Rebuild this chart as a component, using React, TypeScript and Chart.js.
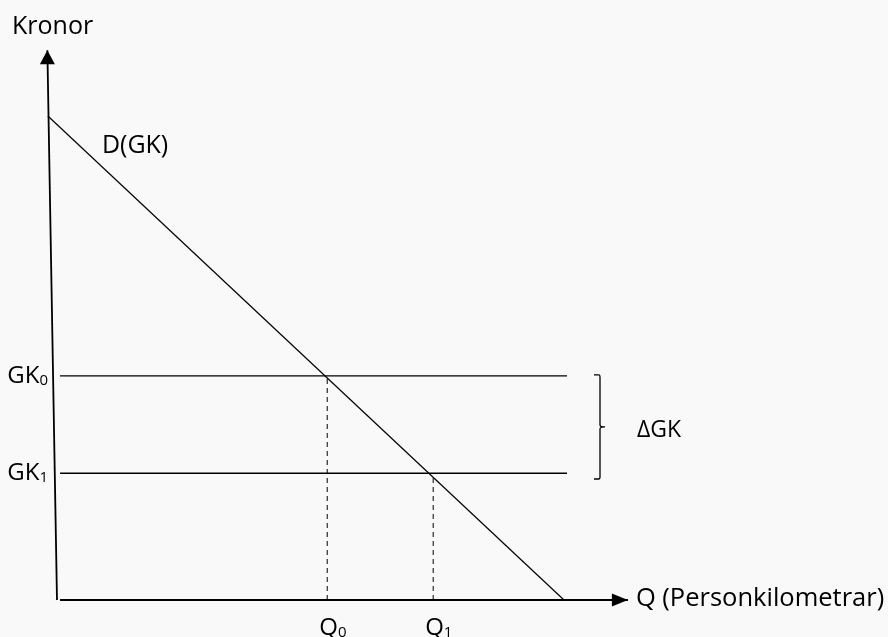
import React, { useEffect, useRef } from "react";
import { Chart, registerables } from "chart.js";

Chart.register(...registerables);

// ---- data (economic units: Q = personkilometrar, P = kronor) ----
const yAxisQ = [-1.9, 0];
const yAxisP = [113.6, 0];
const xAxisQ = [0.6, 112.6];
const xAxisP = [0, 0];
const demandQ = [-1.8, 100];
const demandP = [100, 0];
const gkLevels = [46.3, 26.2]; // GK0, GK1
const gkLabels = ["0", "1"];
const gkLineQ = [0.6, 100.6];
const qLevels = [53.3, 74.2]; // Q0, Q1
const qLabels = ["0", "1"];
const braceQ = 107.1;
const braceP = [46.5, 25.0];

const FONT = "'Open Sans', 'DejaVu Sans', sans-serif";
const BG = "#f9f9f9";

export default function App() {
  const ref = useRef<HTMLCanvasElement | null>(null);

  useEffect(() => {
    if (!ref.current) return;
    const pts = (xs: number[], ys: number[]) => xs.map((x, i) => ({ x, y: ys[i] }));

    const datasets: any[] = [
      { data: pts(yAxisQ, yAxisP), borderColor: "#000", borderWidth: 1.8 },
      { data: pts(xAxisQ, xAxisP), borderColor: "#000", borderWidth: 1.8 },
      { data: pts(demandQ, demandP), borderColor: "#000", borderWidth: 1.2 },
    ];
    gkLevels.forEach((p) =>
      datasets.push({ data: pts(gkLineQ, [p, p]), borderColor: "#000", borderWidth: 1.4 })
    );
    qLevels.forEach((q, i) =>
      datasets.push({
        data: pts([q, q], [0, gkLevels[i]]),
        borderColor: "#000",
        borderWidth: 1,
        borderDash: [5, 4],
      })
    );
    datasets.forEach((d) => {
      d.showLine = true;
      d.pointRadius = 0;
      d.fill = false;
      d.tension = 0;
    });

    const overlay = {
      id: "overlay",
      afterDraw(chart: any) {
        const ctx = chart.ctx as CanvasRenderingContext2D;
        const xs = chart.scales.x;
        const ys = chart.scales.y;
        const px = (v: number) => xs.getPixelForValue(v);
        const py = (v: number) => ys.getPixelForValue(v);
        ctx.save();
        ctx.fillStyle = "#000";
        ctx.strokeStyle = "#000";

        // y-axis arrow (tip at the end of the axis line)
        const tx = px(yAxisQ[0]);
        const ty = py(yAxisP[0]);
        ctx.beginPath();
        ctx.moveTo(tx, ty);
        ctx.lineTo(tx - 7.5, ty + 14);
        ctx.lineTo(tx + 7.5, ty + 14);
        ctx.closePath();
        ctx.fill();

        // x-axis arrow
        const ax = px(xAxisQ[1]);
        const ay = py(0);
        ctx.beginPath();
        ctx.moveTo(ax, ay);
        ctx.lineTo(ax - 16, ay - 6.5);
        ctx.lineTo(ax - 16, ay + 6.5);
        ctx.closePath();
        ctx.fill();

        // brace
        const bx = px(braceQ);
        const bt = py(braceP[0]);
        const bb = py(braceP[1]);
        const bm = (bt + bb) / 2;
        ctx.lineWidth = 1.3;
        ctx.beginPath();
        ctx.moveTo(bx - 6, bt);
        ctx.lineTo(bx - 1, bt);
        ctx.quadraticCurveTo(bx, bt, bx, bt + 2);
        ctx.lineTo(bx, bm - 2);
        ctx.quadraticCurveTo(bx, bm, bx + 5, bm);
        ctx.quadraticCurveTo(bx, bm, bx, bm + 2);
        ctx.lineTo(bx, bb - 2);
        ctx.quadraticCurveTo(bx, bb, bx - 1, bb);
        ctx.lineTo(bx - 6, bb);
        ctx.stroke();

        const text = (s: string, x: number, y: number, size: number, align: CanvasTextAlign = "left") => {
          ctx.font = `${size}px ${FONT}`;
          ctx.textAlign = align;
          ctx.textBaseline = "alphabetic";
          ctx.fillText(s, x, y);
          return ctx.measureText(s).width;
        };
        const subText = (main: string, sub: string, x: number, y: number, size: number, subSize: number, alignRight = false) => {
          ctx.font = `${size}px ${FONT}`;
          const w1 = ctx.measureText(main).width;
          ctx.font = `${subSize}px ${FONT}`;
          const w2 = ctx.measureText(sub).width;
          const x0 = alignRight ? x - w1 - w2 : x;
          text(main, x0, y, size);
          text(sub, x0 + w1, y + 2, subSize);
        };

        // axis titles
        text("Kronor", 12, ty - 16, 25);
        text("Q (Personkilometrar)", ax + 8, ay + 6, 25.5);
        text("D(GK)", px(demandQ[0]) + 54, py(demandP[0]) + 37, 25);
        text("ΔGK", bx + 37, bm + 10, 23);

        gkLevels.forEach((p, i) => subText("GK", gkLabels[i], 48, py(p) + 7, 24, 15, true));
        qLevels.forEach((q, i) => subText("Q", qLabels[i], px(q) - 8, 635, 24, 15));

        ctx.restore();
      },
    };

    const chart = new Chart(ref.current, {
      type: "scatter",
      data: { datasets },
      options: {
        animation: false,
        responsive: true,
        maintainAspectRatio: false,
        layout: { padding: 0 },
        plugins: { legend: { display: false }, tooltip: { enabled: false } },
        scales: {
          x: { type: "linear", display: false, min: -11.243, max: 163.905 },
          y: { type: "linear", display: false, min: -7.645, max: 123.967 },
        },
      },
      plugins: [overlay],
    });
    return () => chart.destroy();
  }, []);

  return (
    <div style={{ position: "fixed", left: 0, top: 0, width: 888, height: 637, background: BG }}>
      <canvas ref={ref} />
    </div>
  );
}
